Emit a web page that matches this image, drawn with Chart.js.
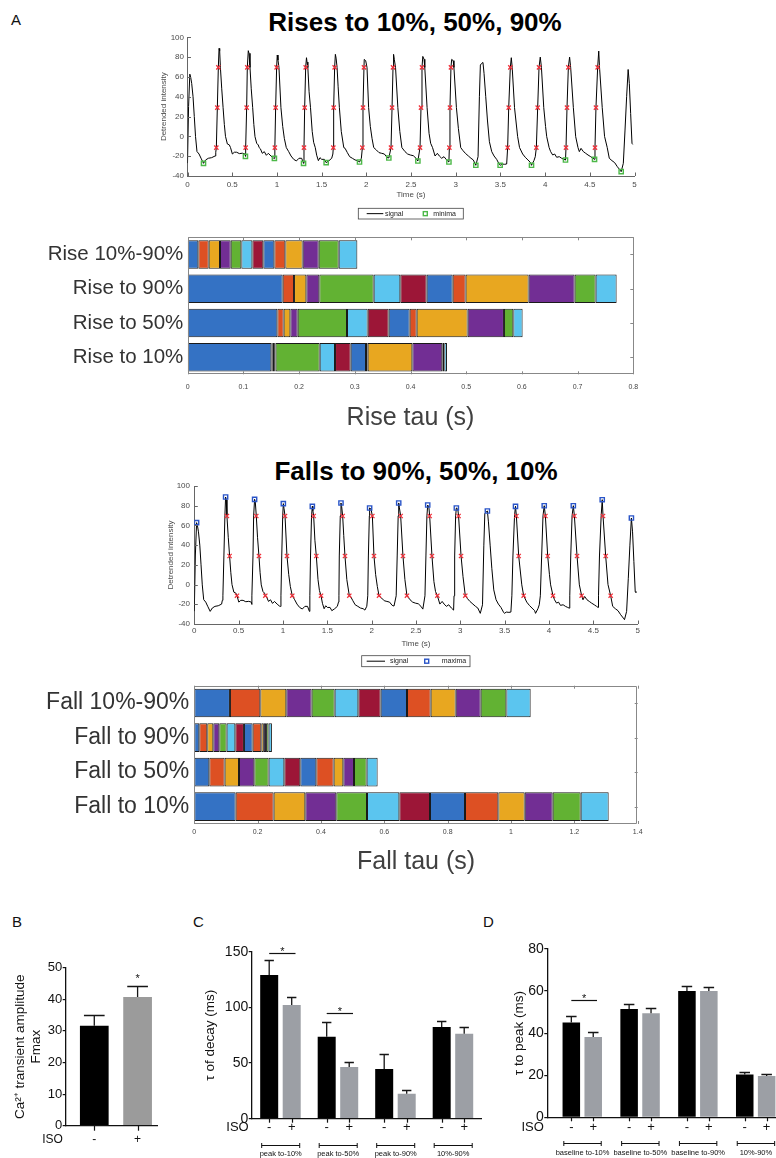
<!DOCTYPE html>
<html>
<head>
<meta charset="utf-8">
<script src="https://cdn.jsdelivr.net/npm/chart.js@4.4.1/dist/chart.umd.min.js"></script>
<style>
html, body { margin: 0; padding: 0; background: #fff; overflow: hidden; width: 776px; height: 1158px; }
#page { position: relative; width: 776px; height: 1158px; font-family: 'Liberation Sans', Arial, sans-serif; }
canvas, .txt { position: absolute; }
.big { font-weight: bold; font-size: 26px; line-height: 30px; width: 500px; text-align: center; color: #000; white-space: nowrap; }
.letter { font-size: 15px; line-height: 18px; color: #111; }
</style>
</head>
<body>
<div id="page">
  <div class="txt letter" style="left:11px; top:11px;">A</div>
  <div class="txt big" style="left:165px; top:7px;">Rises to 10%, 50%, 90%</div>
  <div class="txt big" style="left:166px; top:456px;">Falls to 90%, 50%, 10%</div>
  <div class="txt letter" style="left:12px; top:913px;">B</div>
  <div class="txt letter" style="left:193px; top:913px;">C</div>
  <div class="txt letter" style="left:483px; top:913px;">D</div>
  <canvas id="riseTrace" width="520" height="225" style="left:130px; top:0px;"></canvas>
  <canvas id="riseBars" width="620" height="225" style="left:30px; top:215px;"></canvas>
  <canvas id="fallTrace" width="520" height="235" style="left:137px; top:440px;"></canvas>
  <canvas id="fallBars" width="625" height="220" style="left:30px; top:665px;"></canvas>
  <canvas id="ampChart" width="175" height="258" style="left:0px; top:900px;"></canvas>
  <canvas id="decayChart" width="300" height="258" style="left:185px; top:900px;"></canvas>
  <canvas id="peakChart" width="310" height="258" style="left:480px; top:900px;"></canvas>
</div>
<script>
'use strict';

// detrended signal, time in s
var traceT = [
  0.000, 0.012, 0.026, 0.035, 0.047, 0.062, 0.076, 0.090, 0.106, 0.129, 0.151, 0.179, 0.203, 0.233, 0.270, 0.308, 0.316,
  0.3225, 0.3337, 0.345, 0.353, 0.360, 0.368, 0.383, 0.398, 0.412, 0.425, 0.446, 0.468, 0.481, 0.502, 0.524, 0.550, 0.580, 0.614, 0.643, 0.648,
  0.6506, 0.6618, 0.669, 0.680, 0.688, 0.699, 0.713, 0.729, 0.742, 0.755, 0.774, 0.792, 0.801, 0.815, 0.837, 0.859, 0.882, 0.904, 0.934, 0.960, 0.972,
  0.977, 0.986, 0.997, 1.004, 1.012, 1.023, 1.045, 1.065, 1.083, 1.105, 1.132, 1.158, 1.188, 1.218, 1.247, 1.277, 1.298,
  1.303, 1.3106, 1.322, 1.331, 1.337, 1.346, 1.360, 1.376, 1.395, 1.411, 1.429, 1.445, 1.464, 1.482, 1.501, 1.531, 1.551, 1.583, 1.613, 1.626,
  1.631, 1.635, 1.646, 1.654, 1.662, 1.673, 1.685, 1.699, 1.720, 1.748, 1.762, 1.788, 1.814, 1.844, 1.874, 1.904, 1.924, 1.945,
  1.956, 1.963, 1.974, 1.977, 1.993, 2.008, 2.026, 2.045, 2.064, 2.083, 2.112, 2.142, 2.172, 2.202, 2.231, 2.252,
  2.2765, 2.288, 2.299, 2.305, 2.313, 2.327, 2.353, 2.375, 2.398, 2.433, 2.462, 2.492, 2.526, 2.556, 2.577,
  2.601, 2.612, 2.623, 2.632, 2.646, 2.654, 2.680, 2.702, 2.720, 2.741, 2.769, 2.795, 2.817, 2.843, 2.869, 2.899, 2.924,
  2.929, 2.936, 2.947, 2.955, 2.972, 2.980, 3.008, 3.030, 3.056, 3.078, 3.108, 3.142, 3.171, 3.197, 3.225,
  3.250, 3.265, 3.276, 3.291, 3.305, 3.317, 3.336, 3.355, 3.377, 3.403, 3.429, 3.458, 3.488, 3.497, 3.518, 3.548, 3.570,
  3.581, 3.593, 3.611, 3.622, 3.632, 3.658, 3.693, 3.714, 3.749, 3.778, 3.808, 3.838, 3.848, 3.875, 3.890,
  3.902, 3.917, 3.932, 3.946, 3.959, 3.985, 4.005, 4.018, 4.045, 4.062, 4.085, 4.107, 4.129, 4.159, 4.185, 4.211, 4.228,
  4.234, 4.245, 4.260, 4.274, 4.286, 4.316, 4.342, 4.368, 4.383, 4.402, 4.428, 4.454, 4.480, 4.510, 4.536, 4.553,
  4.558, 4.569, 4.588, 4.600, 4.609, 4.639, 4.665, 4.695, 4.718, 4.748, 4.778, 4.808, 4.838, 4.851,
  4.875, 4.894, 4.912, 4.929, 4.942, 4.957, 4.972, 4.980
];
var traceV = [
  -27, 30, 62.8, 60, 53.5, 40, 20, -0.3, -15.3, -17.8, -22, -27.2, -23.8, -22.1, -21.5, -19.8, -16,
  -11.4, 29, 69.7, 88.8, 86, 69.6, 48, 29, 12, 0, -7.7, -8.6, -11.3, -17.8, -16, -16, -17.4, -17, -17.8, -20.2,
  -11.4, 29, 69.7, 86.5, 83.8, 69.6, 48, 29, 12, -0.3, -7, -8.7, -11.3, -12.5, -17.1, -15.4, -19.1, -17.1, -19.8, -21.8, -22.2,
  -11.4, 29, 69.7, 82.1, 77, 69.6, 29, 10, -2, -11.3, -15.4, -19.8, -23.2, -24.8, -22.1, -22.1, -27.2,
  -11.4, 29, 69.7, 79.4, 75, 69.6, 45, 29, 5, -6, -11.3, -19, -24.5, -21.5, -23.2, -23.2, -26.5, -24.5, -22.1, -17.8,
  -11.4, 29, 69.7, 82.8, 79, 69.6, 50, 29, 5, -11.3, -12, -16.4, -20.5, -22.1, -23.8, -24.5, -25.9, -22,
  -11.4, 29, 69.7, 77.7, 76.4, 69.6, 29, 10, -2, -11.3, -13.7, -16.4, -17.1, -17.8, -21.1, -21.8,
  -11.4, 29, 69.7, 82.8, 77.8, 69.6, 29, 5, -11.3, -15.4, -17.8, -18.8, -19.5, -22.1, -24.9,
  -11.4, 29, 69.7, 80.7, 77.8, 69.6, 29, 3, -7, -11.3, -19.8, -17.1, -19.8, -22.1, -20.5, -23.8, -25.9,
  -11.4, 29, 69.7, 77.7, 76.4, 69.6, 29, 8, -11.3, -14, -17.1, -19.8, -22.1, -23.8, -29.2,
  -20.5, 40, 72, 73.7, 74.6, 63.6, 40, 16.5, -5.4, -15.4, -19.8, -23.2, -28.2, -29.2, -27.9, -28.2, -27.9,
  -11.4, 29, 69.7, 79.4, 69.6, 29, -0.3, -11.3, -17.8, -21.1, -23.8, -26.5, -29.2, -24.5, -20.5,
  -11.4, 29, 69.7, 80, 69.6, 29, 10, -0.3, -11.3, -15.4, -18.8, -17.8, -21.1, -20.5, -22.1, -23.2, -23.9,
  -11.4, 29, 69.7, 80, 69.6, 29, -0.3, -11.3, -15.4, -12.1, -15.4, -17.1, -18.8, -20.5, -22.1, -23.2,
  -11.4, 29, 69.7, 86.1, 69.6, 29, 0, -11.3, -22.1, -24.5, -26.5, -30.6, -34, -35.6,
  -27.2, 6.4, 40, 67.5, 53.5, 23.2, -7, -8.1
];

var minT = [0.179, 0.648, 0.972, 1.298, 1.551, 1.924, 2.252, 2.577, 2.924, 3.225, 3.497, 3.848, 4.228, 4.553, 4.851];
var minV = [-27.2, -20.2, -22.2, -27.2, -26.5, -25.9, -21.8, -24.9, -25.9, -29.2, -29.2, -29.2, -23.9, -23.2, -35.6];
var maxT = [0.026, 0.353, 0.680, 1.004, 1.331, 1.654, 1.977, 2.305, 2.632, 2.955, 3.305, 3.622, 3.946, 4.274, 4.600, 4.929];
var maxV = [62.8, 88.8, 86.5, 82.1, 79.4, 82.8, 77.7, 82.8, 80.7, 77.7, 74.6, 79.4, 80, 80, 86.1, 67.5];

var riseLevels = [-11.4, 29, 69.7];
var rise10T = [0.3225, 0.6506, 0.977, 1.303, 1.631, 1.956, 2.2765, 2.601, 2.929, 3.581, 3.902, 4.234, 4.558];
var rise50T = [0.3337, 0.6618, 0.986, 1.3106, 1.635, 1.963, 2.288, 2.612, 2.936, 3.593, 3.917, 4.245, 4.569];
var rise90T = [0.345, 0.669, 0.997, 1.322, 1.646, 1.974, 2.299, 2.623, 2.947, 3.611, 3.932, 4.260, 4.588];
var fallLevels = [69.6, 29, -11.3];
var fall90T = [0.368, 0.699, 1.023, 1.346, 1.673, 2.008, 2.327, 2.654, 2.980, 3.632, 3.959, 4.286, 4.609];
var fall50T = [0.398, 0.729, 1.045, 1.376, 1.699, 2.026, 2.353, 2.680, 3.008, 3.658, 3.985, 4.316, 4.639];
var fall10T = [0.481, 0.801, 1.105, 1.429, 1.748, 2.083, 2.398, 2.741, 3.056, 3.714, 4.045, 4.368, 4.695];

// stacked tau per beat (s)
var riseRows = ['Rise 10%-90%', 'Rise to 90%', 'Rise to 50%', 'Rise to 10%'];
var rise1090 = [0.0191, 0.0186, 0.0203, 0.0192, 0.0191, 0.0198, 0.0197, 0.0198, 0.0197, 0.0311, 0.0288, 0.0359, 0.0335];
var rise90 = [0.1705, 0.0204, 0.0221, 0.0233, 0.0976, 0.0478, 0.0473, 0.0467, 0.0233, 0.1131, 0.0826, 0.0377, 0.0377];
var rise50 = [0.161, 0.0113, 0.012, 0.0132, 0.0885, 0.0371, 0.0377, 0.0377, 0.0126, 0.0915, 0.0652, 0.0168, 0.0167];
var rise10 = [0.1502, 0.0025, 0.0025, 0.0025, 0.0793, 0.0275, 0.0281, 0.0275, 0.003, 0.0802, 0.0538, 0.0036, 0.0048];

var fallRows = ['Fall 10%-90%', 'Fall to 90%', 'Fall to 50%', 'Fall to 10%'];
var fall1090 = [0.1126, 0.0958, 0.0821, 0.08, 0.0727, 0.0747, 0.0705, 0.0832, 0.0747, 0.079, 0.0789, 0.0811, 0.0768];
var fall90 = [0.0158, 0.0252, 0.019, 0.019, 0.0231, 0.0274, 0.0273, 0.0274, 0.0274, 0.008, 0.007, 0.008, 0.0105];
var fall50 = [0.0474, 0.0484, 0.0453, 0.0484, 0.0452, 0.0495, 0.0505, 0.0506, 0.0547, 0.0305, 0.0337, 0.04, 0.0347];
var fall10 = [0.1305, 0.12, 0.1, 0.0979, 0.0969, 0.1021, 0.0968, 0.1105, 0.1053, 0.0832, 0.0884, 0.0884, 0.0884];

var segColors = ['#3472c4', '#dd5023', '#e8a720', '#722e94', '#62b233', '#5bc5ef', '#9c1637'];

// panels B-D (mean, sem)
var isoSigns = ['-', '+'];
var ampMean = [31.6, 40.7];
var ampSem = [3.4, 3.4];
var ampStar = [47.7];

var decayGroups = ['peak to-10%', 'peak to-50%', 'peak to-90%', '10%-90%'];
var decayMinus = [129.0, 73.7, 44.6, 82.3];
var decayMinusSem = [13.2, 12.8, 13.2, 5.1];
var decayPlus = [102.1, 46.4, 22.5, 76.3];
var decayPlusSem = [6.9, 4.8, 3.5, 6.0];
var decaySig = [0, 1];
var decaySigAt = [149.1, 94.7];

var peakGroups = ['baseline to-10%', 'baseline to-50%', 'baseline to-90%', '10%-90%'];
var peakMinus = [45.1, 51.5, 60.0, 20.4];
var peakMinusSem = [3.2, 2.5, 2.6, 1.0];
var peakPlus = [38.2, 49.4, 60.0, 19.6];
var peakPlusSem = [2.4, 2.4, 2.1, 0.8];
var peakSig = [0];
var peakSigAt = [55.8];

var FONT = "'Liberation Sans', Arial, Helvetica, sans-serif";
Chart.defaults.font.family = FONT;
Chart.defaults.color = '#444';
Chart.defaults.animation = false;
Chart.defaults.responsive = false;
Chart.defaults.events = [];
Chart.defaults.plugins.legend.display = false;
Chart.defaults.plugins.tooltip.enabled = false;

function pts(xs, ys) { return xs.map(function (x, i) { return {x: x, y: ys[i]}; }); }
function level(xs, v) { return xs.map(function (x) { return {x: x, y: v}; }); }
function fixW(w) { return function (s) { s.width = w; }; }
function fixH(h) { return function (s) { s.height = h; }; }
function plainNum(v) { return String(Math.round(v * 100) / 100); }

// matlab style ticks pointing into the plot
var innerTicks = {
  id: 'innerTicks',
  afterDatasetsDraw: function (chart, args, o) {
    if (!o.len) return;
    var ctx = chart.ctx, a = chart.chartArea, xs = chart.scales.x, ys = chart.scales.y, len = o.len;
    ctx.save();
    ctx.strokeStyle = o.color;
    ctx.lineWidth = 1;
    ctx.beginPath();
    if (o.box) ctx.rect(Math.round(a.left) + 0.5, Math.round(a.top) + 0.5, Math.round(a.right - a.left) - 1, Math.round(a.bottom - a.top) - 1);
    xs.ticks.forEach(function (t) {
      var px = Math.round(xs.getPixelForValue(t.value)) + 0.5;
      if (o.bottom) { ctx.moveTo(px, a.bottom); ctx.lineTo(px, a.bottom - len); }
      if (o.top) { ctx.moveTo(px, a.top); ctx.lineTo(px, a.top + len); }
    });
    ys.ticks.forEach(function (t, i) {
      var py = Math.round(ys.getPixelForTick(i)) + 0.5;
      if (o.left) { ctx.moveTo(a.left, py); ctx.lineTo(a.left + len, py); }
      if (o.right) { ctx.moveTo(a.right, py); ctx.lineTo(a.right - len, py); }
    });
    ctx.stroke();
    ctx.restore();
  }
};

// boxed legend under the trace
var boxLegend = {
  id: 'boxLegend',
  afterDraw: function (chart, args, o) {
    if (!o.w) return;
    var ctx = chart.ctx, cy = o.y + o.h / 2;
    var sig = chart.data.datasets[0], mk = chart.data.datasets[o.mark];
    ctx.save();
    ctx.fillStyle = '#fff';
    ctx.fillRect(o.x, o.y, o.w, o.h);
    ctx.strokeStyle = '#444';
    ctx.lineWidth = 0.8;
    ctx.strokeRect(o.x, o.y, o.w, o.h);
    ctx.strokeStyle = sig.borderColor;
    ctx.lineWidth = 1;
    ctx.beginPath();
    ctx.moveTo(o.lineX1, cy);
    ctx.lineTo(o.lineX2, cy);
    ctx.stroke();
    ctx.strokeStyle = mk.pointBorderColor;
    ctx.lineWidth = mk.pointBorderWidth;
    ctx.strokeRect(o.markX - 2, cy - 2, 4, 4);
    ctx.fillStyle = '#222';
    ctx.font = '7px ' + FONT;
    ctx.textBaseline = 'middle';
    ctx.fillText(sig.label, o.sigTextX, cy);
    ctx.fillText(mk.label, o.markTextX, cy);
    ctx.restore();
  }
};

var errBars = {
  id: 'errBars',
  afterDatasetsDraw: function (chart, args, o) {
    if (!o.cap) return;
    var ctx = chart.ctx, ys = chart.scales.y;
    ctx.save();
    ctx.strokeStyle = '#151515';
    ctx.lineWidth = 1.3;
    chart.data.datasets.forEach(function (ds, i) {
      if (!ds.sem) return;
      chart.getDatasetMeta(i).data.forEach(function (bar, j) {
        var top = Math.round(ys.getPixelForValue(ds.data[j].y + ds.sem[j])) + 0.5;
        var half = bar.width * o.cap / 2;
        ctx.beginPath();
        ctx.moveTo(bar.x, bar.y);
        ctx.lineTo(bar.x, top);
        ctx.moveTo(bar.x - half, top);
        ctx.lineTo(bar.x + half, top);
        ctx.stroke();
      });
    });
    ctx.restore();
  }
};

var sigMarks = {
  id: 'sigMarks',
  afterDatasetsDraw: function (chart, args, o) {
    if (!o.levels) return;
    var ctx = chart.ctx, ys = chart.scales.y;
    ctx.save();
    ctx.strokeStyle = '#111';
    ctx.fillStyle = '#111';
    ctx.lineWidth = 1.2;
    ctx.font = '11px ' + FONT;
    ctx.textAlign = 'center';
    ctx.textBaseline = 'alphabetic';
    o.levels.forEach(function (lv, k) {
      var g = o.groups[k], y = Math.round(ys.getPixelForValue(lv)) + 0.5;
      if (o.line) {
        var x1 = chart.getDatasetMeta(0).data[g].x, x2 = chart.getDatasetMeta(1).data[g].x + 3.8;
        ctx.beginPath();
        ctx.moveTo(x1, y);
        ctx.lineTo(x2, y);
        ctx.stroke();
        ctx.fillText('*', (x1 + x2) / 2, y + 1.5);
      } else {
        ctx.fillText('*', chart.getDatasetMeta(0).data[g].x, y + 6.3);
      }
    });
    ctx.restore();
  }
};

// ISO -/+ row and group brackets under the x axis
var isoAxis = {
  id: 'isoAxis',
  afterDraw: function (chart, args, o) {
    if (!o.signY) return;
    var ctx = chart.ctx, base = chart.chartArea.bottom;
    ctx.save();
    ctx.strokeStyle = '#111';
    ctx.fillStyle = '#111';
    ctx.lineWidth = 1.2;
    ctx.textAlign = 'center';
    ctx.textBaseline = 'middle';
    ctx.font = o.signSize + 'px ' + FONT;
    chart.data.datasets.forEach(function (ds, i) {
      chart.getDatasetMeta(i).data.forEach(function (bar, j) {
        var x = Math.round(bar.x) + 0.5;
        ctx.beginPath();
        ctx.moveTo(x, base);
        ctx.lineTo(x, base + o.tick);
        ctx.stroke();
        ctx.fillText(ds.signs ? ds.signs[j] : ds.sign, bar.x, o.signY);
      });
    });
    ctx.fillText('ISO', o.isoX, o.signY);
    if (o.names) {
      ctx.font = '7.5px ' + FONT;
      ctx.lineWidth = 1;
      o.names.forEach(function (name, g) {
        var x1 = chart.getDatasetMeta(0).data[g].x - 7.5, x2 = chart.getDatasetMeta(1).data[g].x + 8;
        var by = o.bracketY + 0.5;
        ctx.beginPath();
        ctx.moveTo(x1, by); ctx.lineTo(x2, by);
        ctx.moveTo(x1, by - 2.5); ctx.lineTo(x1, by + 2.5);
        ctx.moveTo(x2, by - 2.5); ctx.lineTo(x2, by + 2.5);
        ctx.stroke();
        ctx.fillText(name, (x1 + x2) / 2, o.labelY);
      });
    }
    ctx.restore();
  }
};

Chart.register(innerTicks, boxLegend, errBars, sigMarks, isoAxis);

function makeTrace(id, g, marks, legend) {
  var sets = [{label: 'signal', data: pts(traceT, traceV), borderColor: '#000', borderWidth: 1, pointRadius: 0, order: 2}];
  marks.forEach(function (m) {
    sets.push({
      label: m.label, data: m.data, showLine: false, pointStyle: m.style, pointRadius: 3,
      pointBorderColor: m.color, pointBackgroundColor: 'rgba(0,0,0,0)', pointBorderWidth: m.width, order: 1
    });
  });
  return new Chart(document.getElementById(id), {
    type: 'line',
    data: {datasets: sets},
    options: {
      layout: {padding: g.pad},
      plugins: {
        innerTicks: {bottom: true, left: true, len: 3.5, color: '#666'},
        boxLegend: legend
      },
      scales: {
        x: {
          type: 'linear', min: 0, max: 5,
          ticks: {stepSize: 0.5, maxRotation: 0, font: {size: 8}, color: '#4a4a4a', padding: g.xTickPad, callback: plainNum},
          grid: {display: false, drawTicks: false},
          border: {color: '#666'},
          title: {display: true, text: 'Time (s)', font: {size: 8}, color: '#4a4a4a', padding: {top: 0, bottom: g.xTitlePad}},
          afterFit: fixH(30)
        },
        y: {
          type: 'linear', min: -40, max: 100,
          ticks: {stepSize: 20, font: {size: 8}, color: '#4a4a4a', padding: g.yTickPad},
          grid: {display: false, drawTicks: false},
          border: {color: '#666'},
          title: {display: true, text: 'Detrended intensity', font: {size: 8}, color: '#4a4a4a', padding: {top: g.yTitlePad, bottom: 0}},
          afterFit: fixW(50)
        }
      }
    }
  });
}

function makeStack(id, rows, segs, xMax, xStep, title, labelSize, g) {
  var sets = segs[0].map(function (w0, k) {
    return {
      data: segs.map(function (row) { return row[k]; }),
      backgroundColor: segColors[k % segColors.length],
      borderColor: '#1a1a1a', borderWidth: 1, borderSkipped: false,
      barPercentage: 0.83, categoryPercentage: 1
    };
  });
  return new Chart(document.getElementById(id), {
    type: 'bar',
    data: {labels: rows, datasets: sets},
    options: {
      indexAxis: 'y',
      layout: {padding: g.pad},
      plugins: {innerTicks: {box: true, top: true, bottom: true, right: true, len: 3, color: '#888'}},
      scales: {
        x: {
          stacked: true, min: 0, max: xMax,
          ticks: {stepSize: xStep, maxRotation: 0, font: {size: 7}, color: '#444', padding: g.xTickPad, callback: plainNum},
          grid: {display: false, drawTicks: false},
          border: {display: false},
          title: {display: true, text: title, font: {size: 25}, color: '#404040', padding: {top: 0, bottom: g.titlePad}},
          afterFit: fixH(g.xH)
        },
        y: {
          stacked: true,
          ticks: {font: {size: labelSize}, color: '#333', padding: g.yTickPad},
          grid: {display: false, drawTicks: false},
          border: {display: false},
          afterFit: fixW(g.yW)
        }
      }
    }
  });
}

function isoScales(g) {
  return {
    x: {
      type: 'linear', min: g.xMin, max: g.xMax, offset: false,
      afterBuildTicks: function (s) { s.ticks = g.centers.map(function (v) { return {value: v}; }); },
      ticks: {display: false},
      grid: {display: false, drawTicks: false, offset: false},
      border: {display: true, color: '#111', width: 1.3},
      afterFit: fixH(g.xH)
    },
    y: {
      min: 0, max: g.yMax,
      ticks: {stepSize: g.yStep, font: {size: g.tickSize}, color: '#111', padding: 0.5},
      grid: {display: true, drawOnChartArea: false, drawTicks: true, tickLength: 3, color: '#111', lineWidth: 1.2},
      border: {display: true, color: '#111', width: 1.3},
      title: {display: true, text: g.yTitle, font: {size: 13.5}, color: '#111', padding: {top: g.yTitlePad, bottom: 0}},
      afterFit: fixW(g.yW)
    }
  };
}

function pairSets(minus, minusSem, plus, plusSem, gray, cat) {
  var xs = minus.map(function (v, i) { return i + 1; });
  return [
    {data: pts(xs, minus), sem: minusSem, sign: isoSigns[0], backgroundColor: '#000', borderWidth: 0, barPercentage: 0.8, categoryPercentage: cat},
    {data: pts(xs, plus), sem: plusSem, sign: isoSigns[1], backgroundColor: gray, borderWidth: 0, barPercentage: 0.8, categoryPercentage: cat}
  ];
}

// ---- panel A
makeTrace('riseTrace',
  {pad: {left: 7.5, right: 15.5, top: 37.3, bottom: 19}, xTickPad: 4.2, xTitlePad: 6.2, yTickPad: 3.5, yTitlePad: 21},
  [
    {label: 'rise points', data: level(rise10T, riseLevels[0]).concat(level(rise50T, riseLevels[1]), level(rise90T, riseLevels[2])), style: 'crossRot', color: '#f0303a', width: 1.3},
    {label: 'minima', data: pts(minT, minV), style: 'rect', color: '#4cb848', width: 1.4}
  ],
  {x: 228.3, y: 208.3, w: 105, h: 10.7, mark: 2, lineX1: 236.7, lineX2: 253.3, sigTextX: 255, markX: 295.3, markTextX: 303.3}
);

makeStack('riseBars', riseRows, [rise1090, rise90, rise50, rise10], 0.8, 0.1, 'Rise tau (s)', 20.5,
  {pad: {left: 0, right: 16.7, top: 22.3, bottom: 0}, yW: 157.7, xH: 65.7, xTickPad: 8.2, titlePad: 7.3, yTickPad: 4.4});

makeTrace('fallTrace',
  {pad: {left: 7.3, right: 19.3, top: 46, bottom: 21}, xTickPad: 2.2, xTitlePad: 5.9, yTickPad: 4.3, yTitlePad: 21.6},
  [
    {label: 'fall points', data: level(fall90T, fallLevels[0]).concat(level(fall50T, fallLevels[1]), level(fall10T, fallLevels[2])), style: 'crossRot', color: '#f0303a', width: 1.3},
    {label: 'maxima', data: pts(maxT, maxV), style: 'rect', color: '#2a55c8', width: 1.4}
  ],
  {x: 224.7, y: 215.7, w: 108.3, h: 11, mark: 2, lineX1: 229.7, lineX2: 248, sigTextX: 253, markX: 289.7, markTextX: 304.7}
);

makeStack('fallBars', fallRows, [fall1090, fall90, fall50, fall10], 1.4, 0.2, 'Fall tau (s)', 23,
  {pad: {left: 0, right: 17.3, top: 20.7, bottom: 0}, yW: 164.3, xH: 61, xTickPad: 3.5, titlePad: 8.3, yTickPad: 5});

// ---- panel B
new Chart(document.getElementById('ampChart'), {
  type: 'bar',
  data: {datasets: [{
    data: pts([1, 2], ampMean), sem: ampSem, signs: isoSigns,
    backgroundColor: ['#000', '#9b9b9b'], borderWidth: 0, barPercentage: 0.663, categoryPercentage: 1
  }]},
  options: {
    layout: {padding: {left: 0, right: 17.7, top: 67.7, bottom: 0}},
    plugins: {
      errBars: {cap: 0.72},
      sigMarks: {groups: [1], levels: ampStar, line: false},
      isoAxis: {signY: 239.3, isoX: 52.5, tick: 5, signSize: 12}
    },
    scales: isoScales({xMin: 0.34, xMax: 2.455, centers: [1, 2], xH: 32.3, yMax: 50, yStep: 10, tickSize: 13,
      yTitle: ['Ca²⁺ transient amplitude', 'Fmax'], yTitlePad: 11.9, yW: 65.7})
  }
});

// ---- panel C
new Chart(document.getElementById('decayChart'), {
  type: 'bar',
  data: {datasets: pairSets(decayMinus, decayMinusSem, decayPlus, decayPlusSem, '#9c9fa5', 0.783)},
  options: {
    layout: {padding: {left: 0, right: 3.3, top: 51.7, bottom: 0}},
    plugins: {
      errBars: {cap: 0.52},
      sigMarks: {groups: decaySig, levels: decaySigAt, line: true},
      isoAxis: {signY: 227, isoX: 52.5, tick: 4, signSize: 13, names: decayGroups, bracketY: 245, labelY: 254}
    },
    scales: isoScales({xMin: 0.5, xMax: 4.5, centers: [1, 2, 3, 4], xH: 39.3, yMax: 150, yStep: 50, tickSize: 14,
      yTitle: 'τ of decay (ms)', yTitlePad: 16.9, yW: 66.7})
  }
});

// ---- panel D
new Chart(document.getElementById('peakChart'), {
  type: 'bar',
  data: {datasets: pairSets(peakMinus, peakMinusSem, peakPlus, peakPlusSem, '#9c9fa5', 0.758)},
  options: {
    layout: {padding: {left: 0, right: 5.4, top: 49, bottom: 0}},
    plugins: {
      errBars: {cap: 0.6},
      sigMarks: {groups: peakSig, levels: peakSigAt, line: true},
      isoAxis: {signY: 227, isoX: 52.7, tick: 4, signSize: 13, names: peakGroups, bracketY: 243, labelY: 253}
    },
    scales: isoScales({xMin: 0.395, xMax: 4.5, centers: [1, 2, 3, 4], xH: 40.7, yMax: 80, yStep: 20, tickSize: 14,
      yTitle: 'τ to peak (ms)', yTitlePad: 31.4, yW: 67.3})
  }
});
</script>
</body>
</html>
